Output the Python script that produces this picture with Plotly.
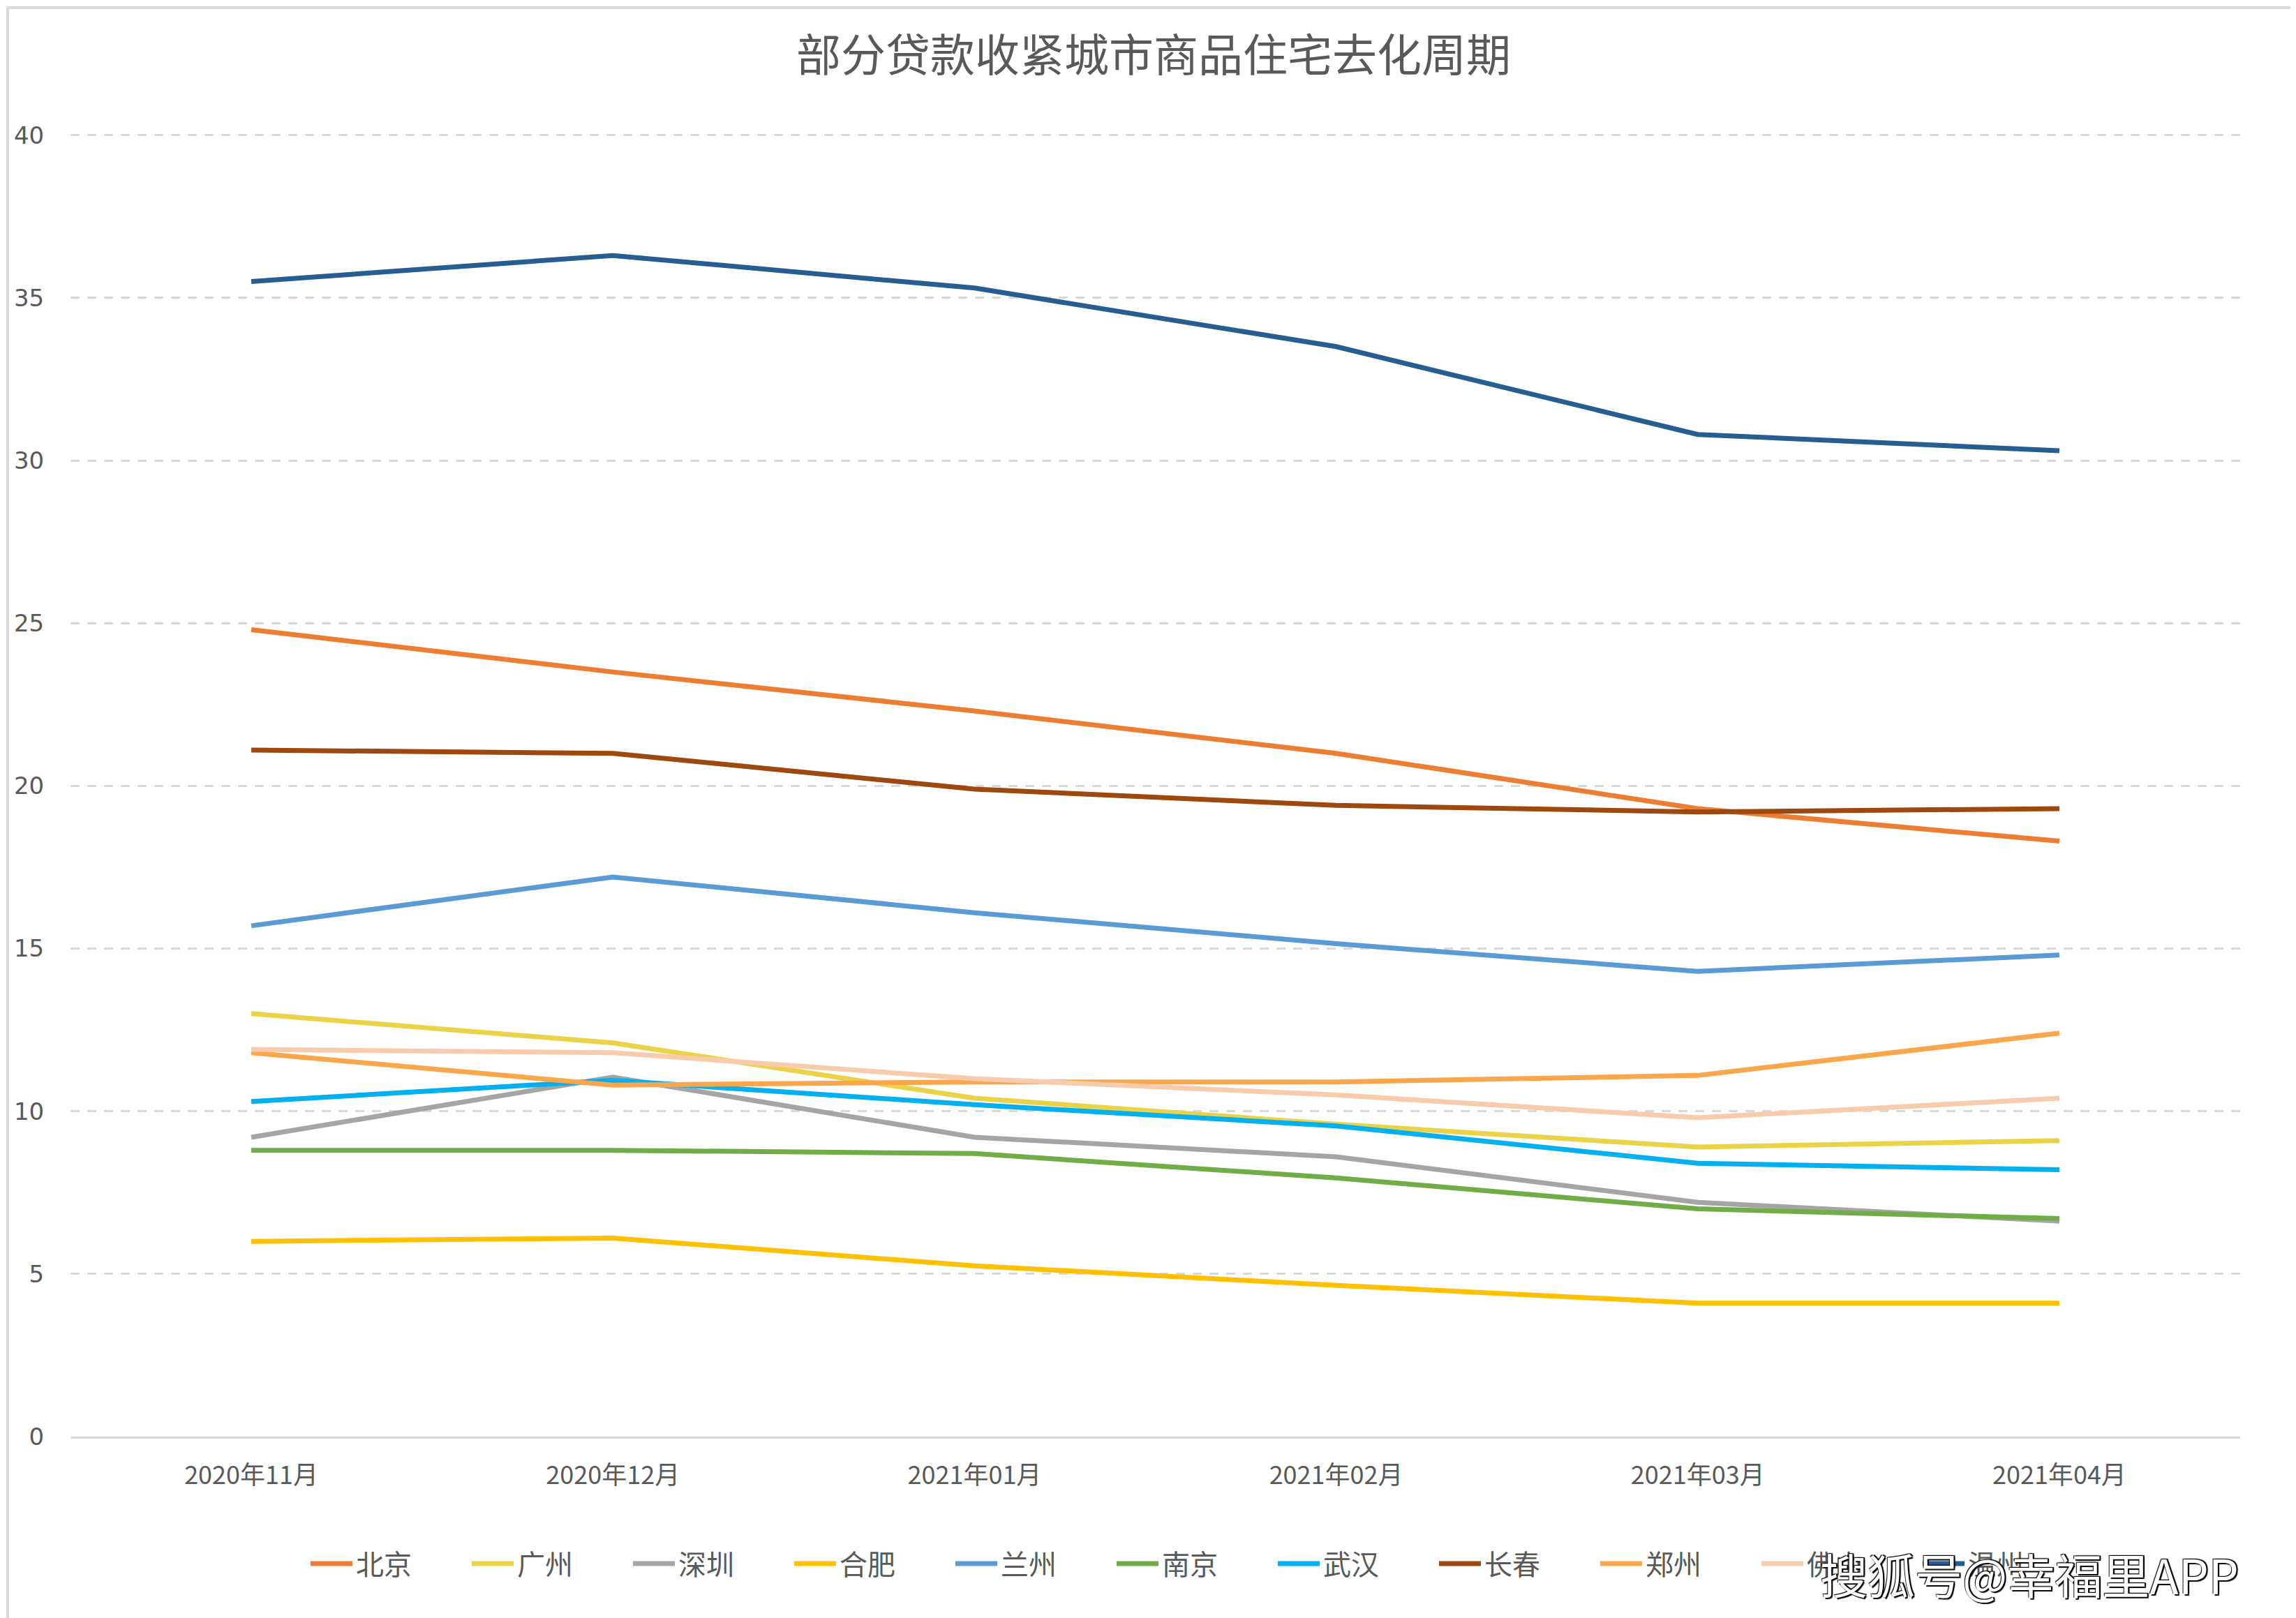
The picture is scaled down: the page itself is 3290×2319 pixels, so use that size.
import plotly.graph_objects as go

months = ["2020年11月", "2020年12月", "2021年01月", "2021年02月", "2021年03月", "2021年04月"]

beijing   = [24.8, 23.5, 22.3, 21.0, 19.3, 18.3]
guangzhou = [13.0, 12.1, 10.4, 9.6, 8.9, 9.1]
shenzhen  = [9.2, 11.05, 9.2, 8.6, 7.2, 6.62]
hefei     = [6.0, 6.1, 5.25, 4.65, 4.1, 4.1]
lanzhou   = [15.7, 17.2, 16.1, 15.15, 14.3, 14.8]
nanjing   = [8.8, 8.8, 8.7, 7.95, 7.0, 6.7]
wuhan     = [10.3, 10.95, 10.2, 9.55, 8.4, 8.2]
changchun = [21.1, 21.0, 19.9, 19.4, 19.2, 19.3]
zhengzhou = [11.8, 10.8, 10.9, 10.9, 11.1, 12.4]
foshan    = [11.9, 11.8, 11.0, 10.5, 9.8, 10.4]
wenzhou   = [35.5, 36.3, 35.3, 33.5, 30.8, 30.3]

series_names = ["北京", "广州", "深圳", "合肥", "兰州", "南京", "武汉", "长春", "郑州", "佛山", "温州"]
series_values = [beijing, guangzhou, shenzhen, hefei, lanzhou, nanjing, wuhan, changchun, zhengzhou, foshan, wenzhou]
series_colors = ["#ED7D31", "#EBD348", "#A5A5A5", "#FFC000", "#5B9BD5", "#70AD47",
                 "#00B0F0", "#9E480E", "#FBA64A", "#F8CBAD", "#275E92"]

title_text = "部分贷款收紧城市商品住宅去化周期"
watermark_text = "搜狐号@幸福里APP"

FONT = "Noto Sans CJK SC, Noto Sans, sans-serif"
TEXT_COLOR = "#595959"

fig = go.Figure()
for name, vals, col in zip(series_names, series_values, series_colors):
    fig.add_trace(go.Scatter(
        x=months, y=vals, name=name, mode="lines",
        line=dict(color=col, width=7),
    ))

W, H = 3290, 2319
ml, mr, mt, mb = 93, 88, 181, 268
PH = H - mt - mb
PW = W - ml - mr

fig.update_layout(
    width=W, height=H,
    paper_bgcolor="white", plot_bgcolor="white",
    margin=dict(l=ml, r=mr, t=mt, b=mb, pad=0),
    font=dict(family=FONT, color=TEXT_COLOR),
    title=dict(text=title_text, x=0.5, xanchor="center", y=1 - 72 / H, yanchor="middle",
               yref="container", font=dict(size=64, color=TEXT_COLOR, family=FONT)),
    showlegend=True,
    legend=dict(orientation="h", x=0.5 + 55 / PW, xanchor="center", y=-182 / PH, yanchor="middle",
                font=dict(size=40, color=TEXT_COLOR, family=FONT),
                entrywidth=156, entrywidthmode="pixels", itemwidth=60,
                bgcolor="rgba(0,0,0,0)"),
    xaxis=dict(type="category", range=[-0.5, 5.5], showgrid=False,
               showline=True, linecolor="#D9D9D9", linewidth=3,
               ticks="outside", ticklen=22, tickcolor="rgba(0,0,0,0)",
               tickfont=dict(size=36, color=TEXT_COLOR, family=FONT), zeroline=False),
    yaxis=dict(range=[0, 40.1], tickvals=[0, 5, 10, 15, 20, 25, 30, 35, 40],
               showgrid=True, gridcolor="#D9D9D9", gridwidth=3,
               griddash="13px,11px", zeroline=False, showline=False,
               ticks="outside", ticklen=30, tickcolor="rgba(0,0,0,0)",
               tickfont=dict(size=34, color=TEXT_COLOR, family="DejaVu Sans")),
    shapes=[dict(type="rect", xref="paper", yref="paper",
                 x0=-(ml - 3) / PW, x1=1 + (mr - 3) / PW,
                 y0=-(mb - 3) / PH, y1=1 + (mt - 3) / PH,
                 line=dict(color="#D9D9D9", width=4), layer="below")],
    annotations=[dict(text=watermark_text, xref="paper", yref="paper",
                      x=1.0, xanchor="right", y=-196 / PH, yanchor="middle", showarrow=False,
                      font=dict(size=68, color="white", family=FONT,
                                shadow="2px 2px 1px black, -1px -1px 1px black, 2px -1px 1px black"))],
)

fig.write_html("out.html")
